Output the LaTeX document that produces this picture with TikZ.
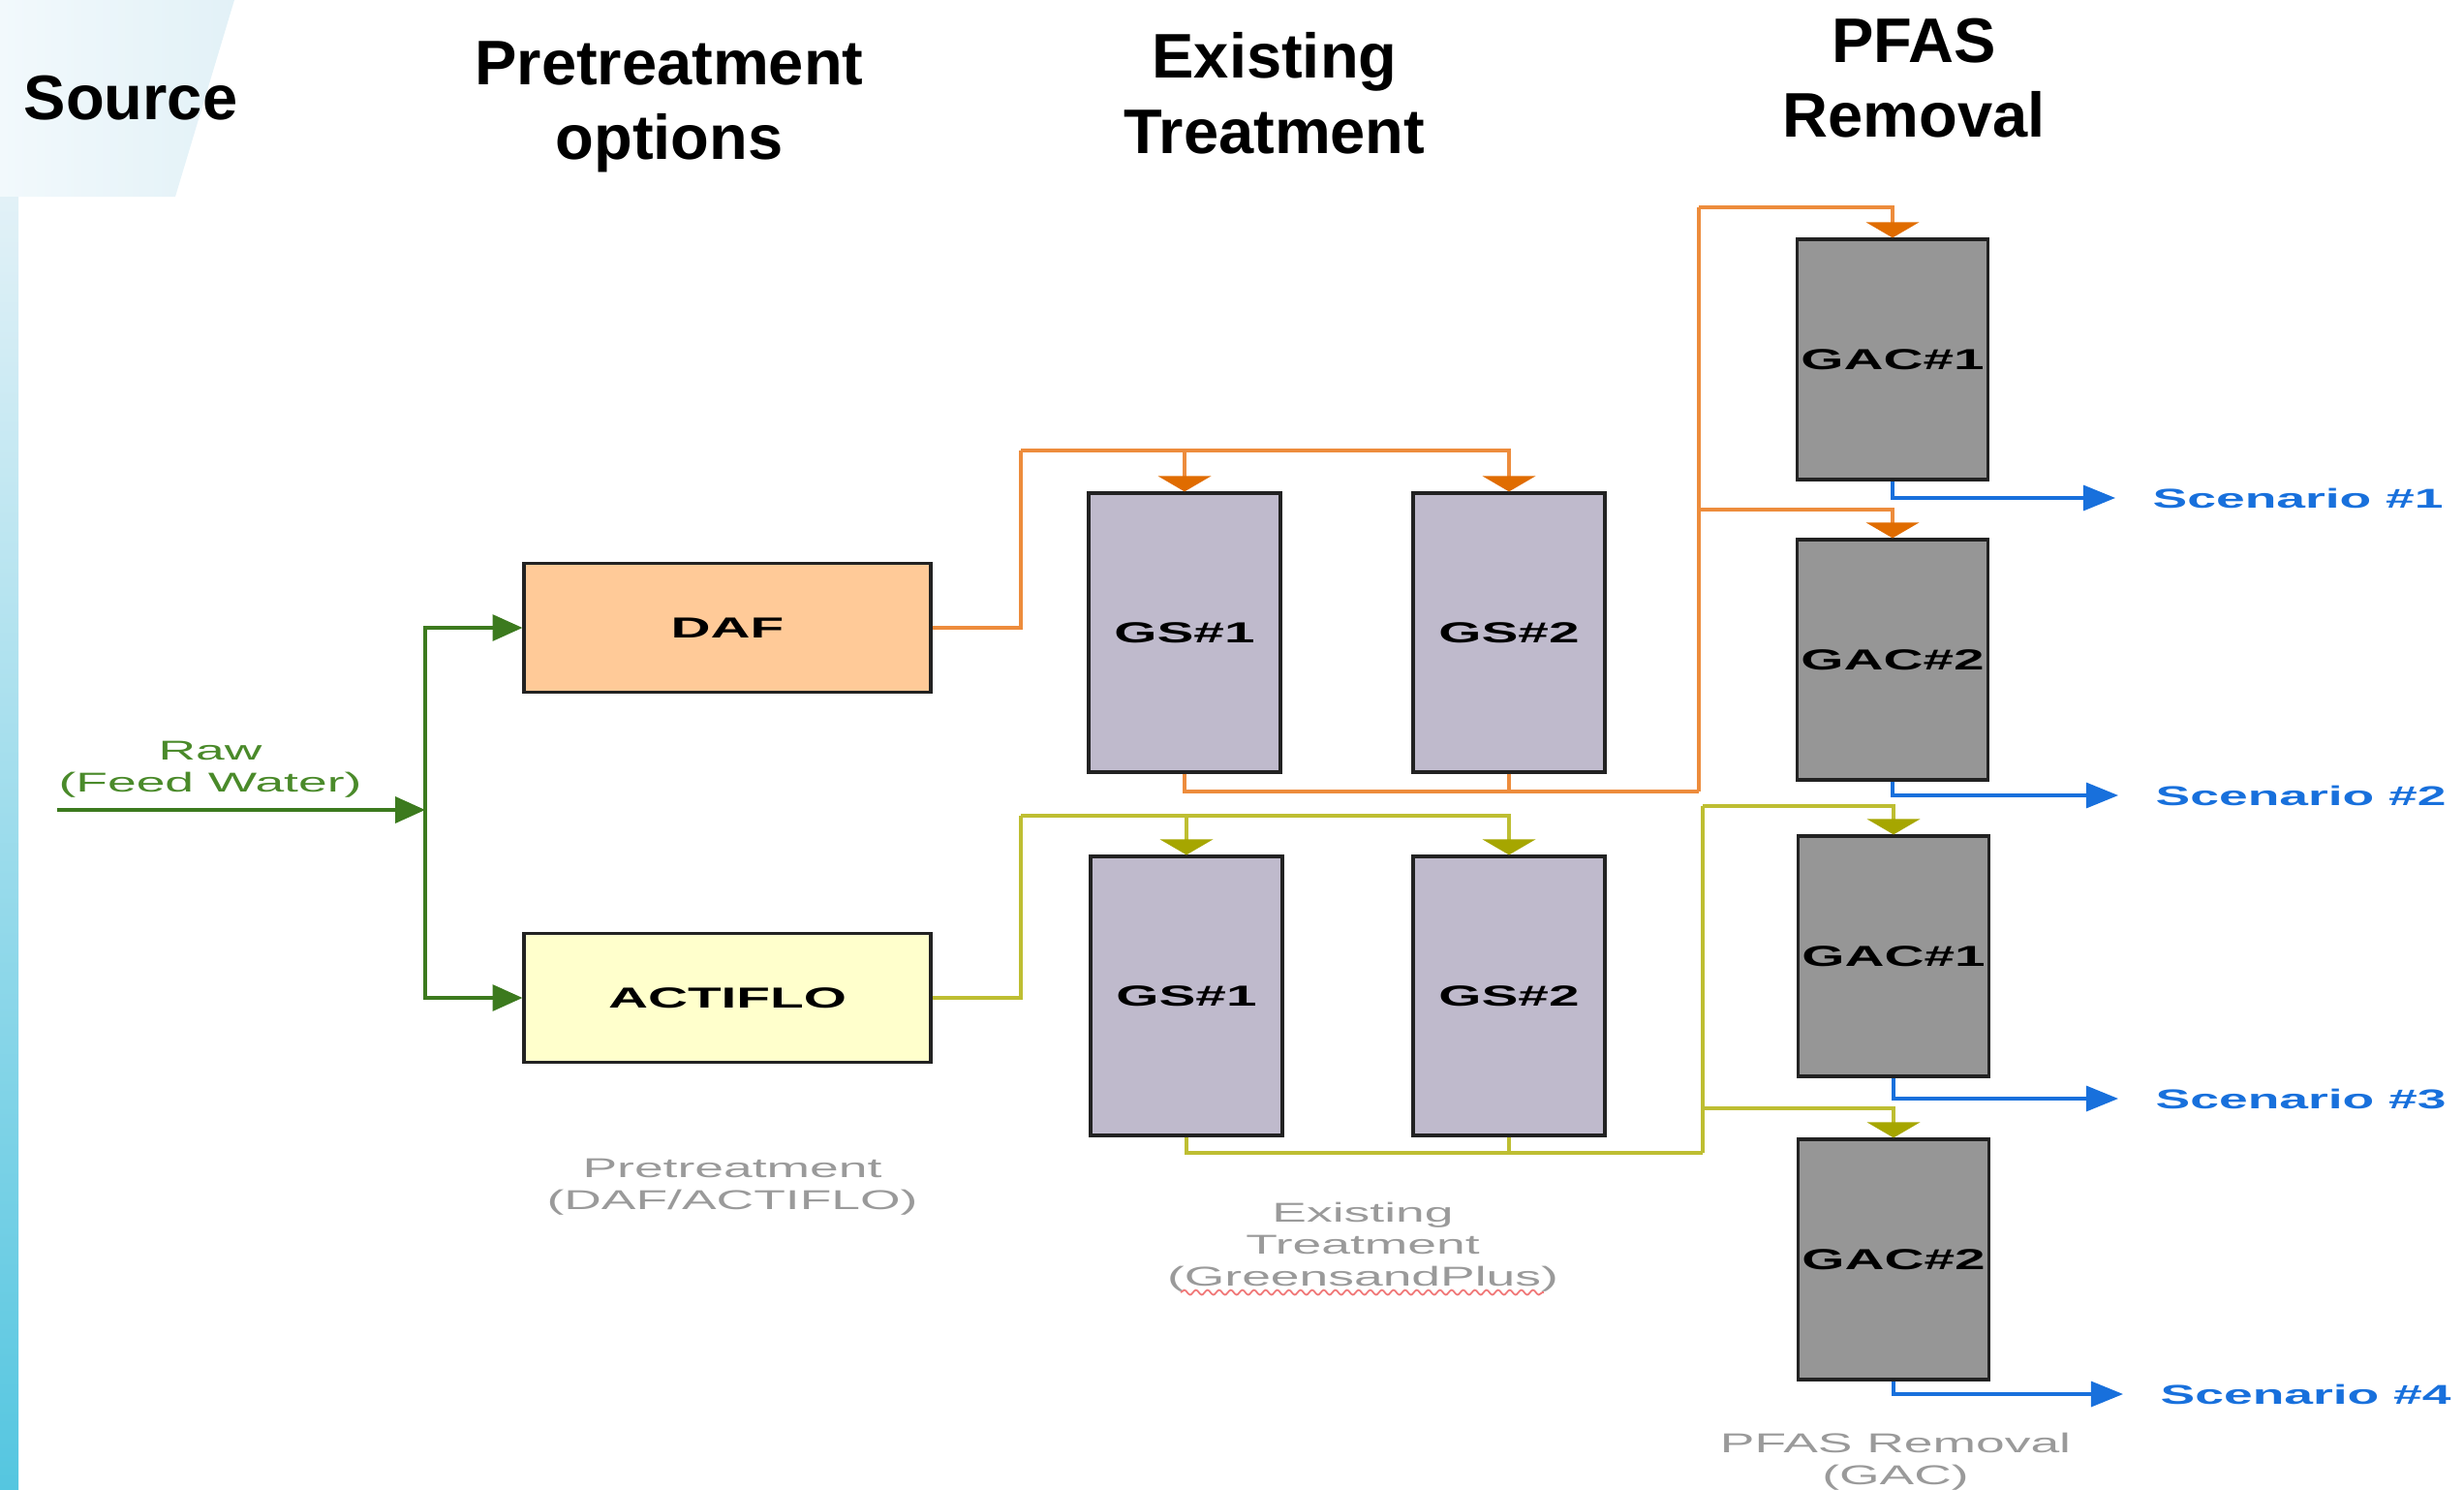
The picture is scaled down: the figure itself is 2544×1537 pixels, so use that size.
\documentclass[tikz,border=0pt]{standalone}
\usepackage{fontspec}
\setmainfont{Liberation Sans}
\newfontfamily\diafont[FakeStretch=1.9]{Liberation Sans}
\usetikzlibrary{arrows.meta,decorations.pathmorphing}
\definecolor{bgpale}{HTML}{F2F9FC}
\definecolor{bglight}{HTML}{E2F1F7}
\definecolor{bgcyan}{HTML}{55C6E0}
\definecolor{boxline}{HTML}{222222}
\definecolor{dafpeach}{HTML}{FFCA98}
\definecolor{actyellow}{HTML}{FFFFCC}
\definecolor{gsgrey}{HTML}{BFBACC}
\definecolor{gacgrey}{HTML}{969696}
\definecolor{feedgreen}{HTML}{3C7A1E}
\definecolor{rawgreen}{HTML}{4A8A2A}
\definecolor{daforange}{HTML}{ED8C3C}
\definecolor{dafarrow}{HTML}{E06C00}
\definecolor{actolive}{HTML}{BEBE32}
\definecolor{actarrow}{HTML}{A6A600}
\definecolor{scenblue}{HTML}{1870DC}
\definecolor{notegrey}{HTML}{9A9A9A}
\definecolor{squiggle}{HTML}{F07878}

\begin{document}
\begin{tikzpicture}[x=0.1mm,y=-0.1mm,
  heading/.style={font=\fontsize{18.5}{22}\selectfont\bfseries, align=center, inner sep=0pt},
  unitbox/.style={draw=boxline, line width=0.9pt, inner sep=0pt,
    font=\diafont\fontsize{8.5}{10}\selectfont\bfseries},
  prebox/.style={unitbox, minimum width=42mm, minimum height=13.3mm},
  gsbox/.style={unitbox, fill=gsgrey, minimum width=19.8mm, minimum height=28.8mm},
  gacbox/.style={unitbox, fill=gacgrey, minimum width=19.7mm, minimum height=24.8mm},
  notetext/.style={font=\diafont\fontsize{8}{9.4}\selectfont, text=notegrey, align=center, inner sep=0pt},
  scenario/.style={font=\diafont\fontsize{8}{10}\selectfont\bfseries, text=scenblue, anchor=west, inner sep=0pt},
  feed/.style={draw=feedgreen, line width=0.9pt, -{Triangle[length=8.8pt,width=7.7pt]}},
  dafline/.style={draw=daforange, line width=0.9pt},
  dafdrop/.style={dafline, -{Triangle[length=4.6pt,width=15.6pt,color=dafarrow]}},
  actline/.style={draw=actolive, line width=0.9pt},
  actdrop/.style={actline, -{Triangle[length=4.6pt,width=15.6pt,color=actarrow]}},
  outflow/.style={draw=scenblue, line width=0.9pt, shorten >=3.8mm, -{Triangle[length=9.4pt,width=7.4pt]}}]
\useasboundingbox (0,0) rectangle (2544,1537);
\shade[left color=bgpale, right color=bglight] (0,0) -- (242,0) -- (181,203) -- (0,203) -- cycle;
\shade[top color=bglight, bottom color=bgcyan] (0,203) rectangle (19,1537);

\node[heading] (source) at (135,101) {Source};
\node[heading, anchor=north] (pretitle) at (691,42) {Pretreatment\\options};
\node[heading, anchor=north] (exititle) at (1316,33) {Existing\\Treatment};
\node[heading, anchor=north] (pfastitle) at (1976,18) {PFAS\\Removal};

\node[prebox, fill=dafpeach] (daf) at (751,648) {DAF};
\node[prebox, fill=actyellow] (act) at (751,1030) {ACTIFLO};
\node[gsbox] (gsa1) at (1223,653) {GS\#1};
\node[gsbox] (gsa2) at (1558,653) {GS\#2};
\node[gsbox] (gsb1) at (1225,1028) {GS\#1};
\node[gsbox] (gsb2) at (1558,1028) {GS\#2};
\node[gacbox] (gaca1) at (1954,371) {GAC\#1};
\node[gacbox] (gaca2) at (1954,681) {GAC\#2};
\node[gacbox] (gacb1) at (1955,987) {GAC\#1};
\node[gacbox] (gacb2) at (1955,1300) {GAC\#2};

\node[scenario] (s1) at (2222,514) {Scenario \#1};
\node[scenario] (s2) at (2225,821) {Scenario \#2};
\node[scenario] (s3) at (2225,1134) {Scenario \#3};
\node[scenario] (s4) at (2230,1439) {Scenario \#4};

\node[notetext, text=rawgreen, anchor=south] (rawlabel) at (217,824) {Raw\\(Feed Water)};
\node[notetext, anchor=north] (prelabel) at (756,1195) {Pretreatment\\(DAF/ACTIFLO)};
\node[notetext, anchor=north] (exilabel) at (1407,1240) {Existing\\Treatment\\(GreensandPlus)};
\node[notetext, anchor=north] (pfaslabel) at (1957,1478) {PFAS Removal\\(GAC)};
\draw[squiggle, line width=0.5pt, decorate, decoration={snake, amplitude=0.25mm, segment length=1.2mm}]
  (1219,1334) -- (1594,1334);

\coordinate (rawin) at (59,836);
\coordinate (split) at (439,836);
\coordinate (dafbus) at (1054,465);
\coordinate (actbus) at (1054,842);
\coordinate (dafcol) at (1754,817);
\coordinate (dafup) at (1754,214);
\coordinate (dafmid) at (1754,526);
\coordinate (actcol) at (1758,1190);
\coordinate (actup) at (1758,832);
\coordinate (actmid) at (1758,1144);

\draw[feed] (rawin) -- (split);
\draw[feed] (split) |- (daf);
\draw[feed] (split) |- (act);

\draw[dafline] (daf) -| (dafbus);
\draw[dafdrop] (dafbus) -| (gsa1);
\draw[dafdrop] (dafbus) -| (gsa2);
\draw[dafline] (gsa1) |- (dafcol);
\draw[dafline] (gsa2) -- (gsa2 |- dafcol);
\draw[dafline] (dafcol) -- (dafup);
\draw[dafdrop] (dafup) -| (gaca1);
\draw[dafdrop] (dafmid) -| (gaca2);

\draw[actline] (act) -| (actbus);
\draw[actdrop] (actbus) -| (gsb1);
\draw[actdrop] (actbus) -| (gsb2);
\draw[actline] (gsb1) |- (actcol);
\draw[actline] (gsb2) -- (gsb2 |- actcol);
\draw[actline] (actcol) -- (actup);
\draw[actdrop] (actup) -| (gacb1);
\draw[actdrop] (actmid) -| (gacb2);

\draw[outflow] (gaca1) |- (s1);
\draw[outflow] (gaca2) |- (s2);
\draw[outflow] (gacb1) |- (s3);
\draw[outflow] (gacb2) |- (s4);
\end{tikzpicture}
\end{document}
